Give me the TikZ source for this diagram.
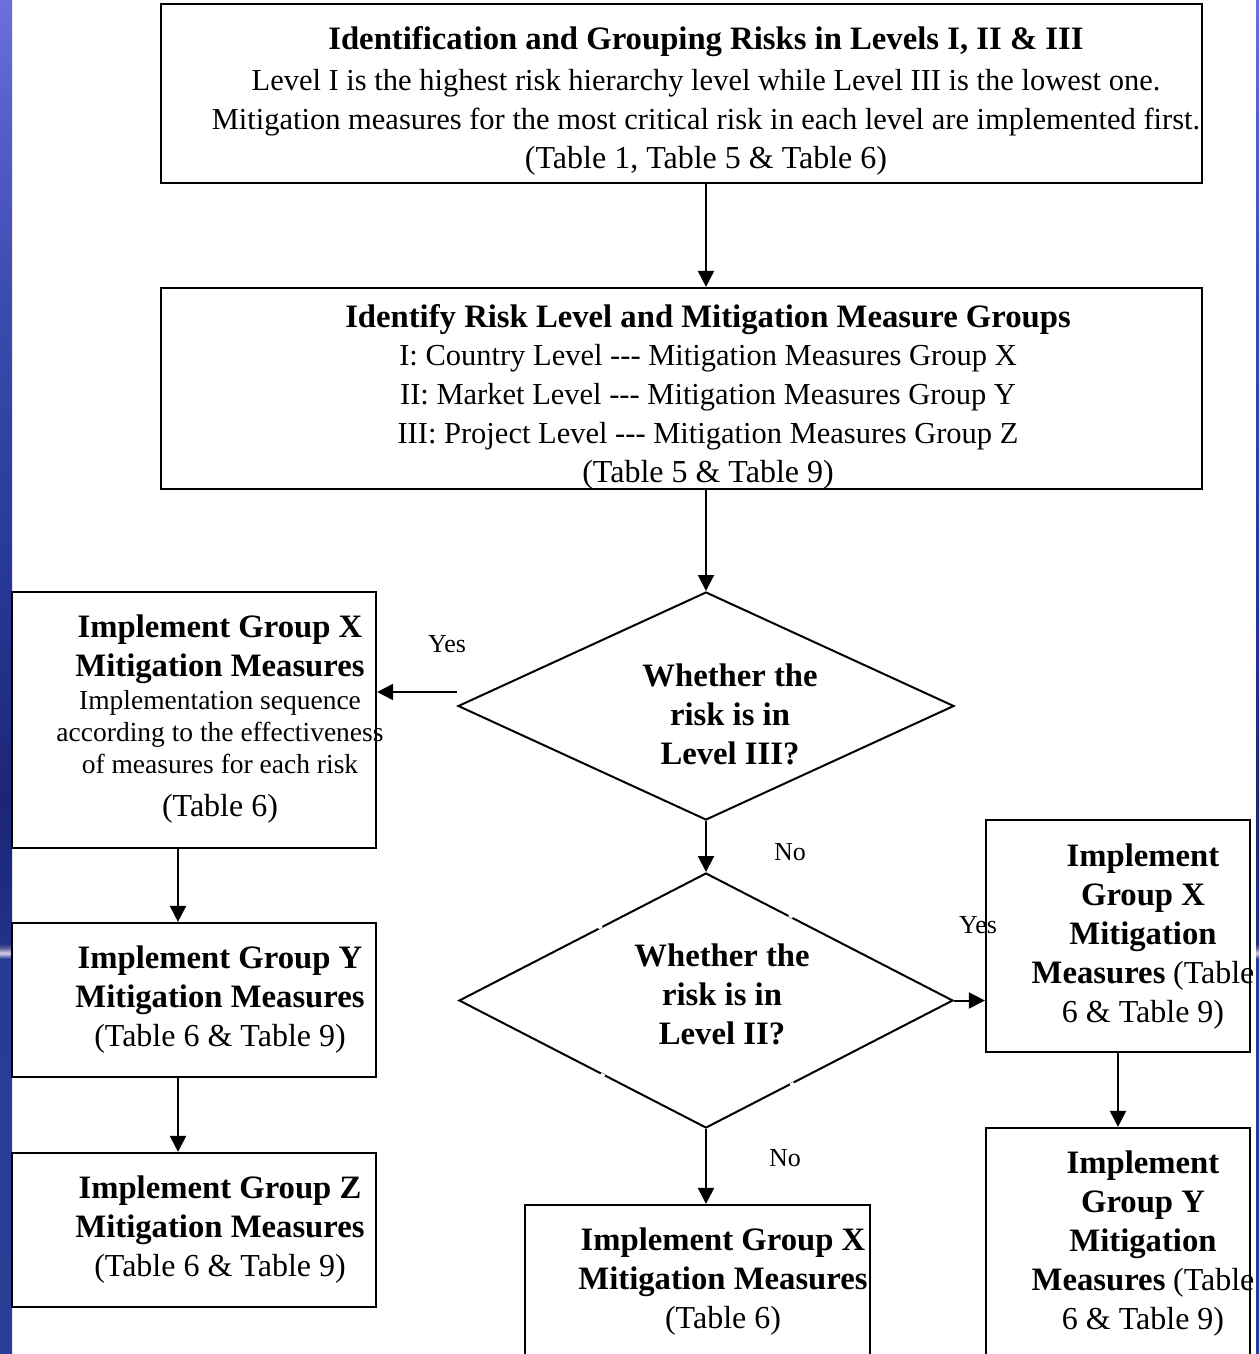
\documentclass[tikz,border=0pt]{standalone}
\usepackage{fontspec}
\setmainfont{Liberation Serif}
\usetikzlibrary{shapes.geometric,arrows.meta,calc}

% colours of the blue side strips
\definecolor{eA}{RGB}{108,112,218}
\definecolor{eB}{RGB}{85,95,200}
\definecolor{eC}{RGB}{60,75,175}
\definecolor{eD}{RGB}{42,58,155}
\definecolor{eE}{RGB}{28,38,118}
\definecolor{eF}{RGB}{30,45,130}
\definecolor{eG}{RGB}{35,50,135}
\definecolor{eH}{RGB}{90,90,150}
\definecolor{eI}{RGB}{215,210,230}
\definecolor{eJ}{RGB}{40,60,150}
\definecolor{eK}{RGB}{42,62,150}

\pgfdeclareverticalshading{edgeblue}{100bp}{%
  color(0bp)=(eK); color(25bp)=(eK); color(39.6bp)=(eJ); color(39.8bp)=(eI);
  color(40bp)=(eH); color(40.15bp)=(eG); color(41.8bp)=(eF); color(45.5bp)=(eE);
  color(54.7bp)=(eD); color(63.9bp)=(eC); color(70.6bp)=(eB); color(75bp)=(eA);
  color(100bp)=(eA)}

\newcommand{\bigbf}{\fontsize{32.7}{39}\selectfont\bfseries}
\newcommand{\tabtxt}{\fontsize{32}{39}\selectfont}
\newcommand{\smalltxt}{\fontsize{27.5}{33}\selectfont}

\tikzset{
  box/.style={draw, line width=2.2pt, rectangle, inner sep=0pt},
  dia/.style={draw, line width=2pt, diamond, inner sep=0pt},
  txt/.style={align=center, inner sep=0pt, font=\fontsize{30.5}{39}\selectfont},
  arr/.style={line width=2pt, -{Triangle[length=16pt,width=16pt]}},
  lbl/.style={inner sep=0pt, font=\fontsize{26}{30}\selectfont},
  gap/.style={white, line width=3.5pt}
}

\begin{document}
\begin{tikzpicture}[x=1pt,y=-1pt]
\useasboundingbox (0,0) rectangle (1259,1354);
\clip (0,0) rectangle (1259,1354);

% side strips
\shade[shading=edgeblue] (0,0) rectangle (12,1354);
\shade[shading=edgeblue] (1256,0) rectangle (1259,1354);

% boxes
\node[box, minimum width=1041pt, minimum height=179pt] (b1) at (681.5,93.5) {};
\node[box, minimum width=1041pt, minimum height=201pt] (b2) at (681.5,388.5) {};
\node[box, minimum width=364pt, minimum height=256pt] (xl) at (194,720) {};
\node[box, minimum width=364pt, minimum height=154pt] (yl) at (194,1000) {};
\node[box, minimum width=364pt, minimum height=154pt] (zl) at (194,1230) {};
\node[box, minimum width=264pt, minimum height=232pt] (xr) at (1118,936) {};
\node[box, minimum width=264pt, minimum height=260pt] (yr) at (1118,1258) {};
\node[box, minimum width=345pt, minimum height=180pt] (xb) at (697.5,1295) {};

% decisions
\node[dia, minimum width=496pt, minimum height=228pt] (d1) at (706,706) {};
\node[dia, minimum width=494pt, minimum height=255pt] (d2) at (706,1000.5) {};

% small breaks in the outline of the second decision
\draw[gap] ($(d2.west)!0.565!(d2.north)$) -- ($(d2.west)!0.58!(d2.north)$);
\draw[gap] ($(d2.north)!0.335!(d2.east)$) -- ($(d2.north)!0.35!(d2.east)$);
\draw[gap] ($(d2.west)!0.575!(d2.south)$) -- ($(d2.west)!0.59!(d2.south)$);
\draw[gap] ($(d2.south)!0.34!(d2.east)$) -- ($(d2.south)!0.355!(d2.east)$);

% texts
\node[txt] (t1) at (706,101) {{\bigbf Identification and Grouping Risks in Levels I, II \& III}\\[2pt]
  Level I is the highest risk hierarchy level while Level III is the lowest one.\\
  Mitigation measures for the most critical risk in each level are implemented first.\\
  {\tabtxt (Table 1, Table 5 \& Table 6)}};
\node[txt] (t2) at (708,397) {{\bigbf Identify Risk Level and Mitigation Measure Groups}\\[-1pt]
  I: Country Level -{}-{}- Mitigation Measures Group X\\
  II: Market Level -{}-{}- Mitigation Measures Group Y\\
  III: Project Level -{}-{}- Mitigation Measures Group Z\\
  {\tabtxt (Table 5 \& Table 9)}};
\node[txt] (txl) at (220,719) {{\bigbf Implement Group X}\\
  {\bigbf Mitigation Measures}\\[-6pt]
  {\smalltxt Implementation sequence}\\[-7pt]
  {\smalltxt according to the effectiveness}\\[-7pt]
  {\smalltxt of measures for each risk}\\[4pt]
  {\tabtxt (Table 6)}};
\node[txt] (tyl) at (220,999.5) {{\bigbf Implement Group Y}\\
  {\bigbf Mitigation Measures}\\
  {\tabtxt (Table 6 \& Table 9)}};
\node[txt] (tzl) at (220,1230) {{\bigbf Implement Group Z}\\
  {\bigbf Mitigation Measures}\\
  {\tabtxt (Table 6 \& Table 9)}};
\node[txt] (td1) at (730,714) {{\bigbf Whether the}\\{\bigbf risk is in}\\{\bigbf Level III?}};
\node[txt] (td2) at (722,994.5) {{\bigbf Whether the}\\{\bigbf risk is in}\\{\bigbf Level II?}};
\node[txt] (txr) at (1143,937) {{\bigbf Implement}\\{\bigbf Group X}\\{\bigbf Mitigation}\\
  {\bigbf Measures} {\tabtxt (Table}\\{\tabtxt 6 \& Table 9)}};
\node[txt] (tyr) at (1143,1244) {{\bigbf Implement}\\{\bigbf Group Y}\\{\bigbf Mitigation}\\
  {\bigbf Measures} {\tabtxt (Table}\\{\tabtxt 6 \& Table 9)}};
\node[txt] (txb) at (723,1282) {{\bigbf Implement Group X}\\
  {\bigbf Mitigation Measures}\\
  {\tabtxt (Table 6)}};

% branch labels
\node[lbl] (yes1) at (447,644) {Yes};
\node[lbl] (no1) at (790,852) {No};
\node[lbl] (yes2) at (978,925) {Yes};
\node[lbl] (no2) at (785,1158) {No};

% connectors
\draw[arr] (d1 |- b1.south) -- (d1 |- b2.north);
\draw[arr] (d1 |- b2.south) -- (d1.north);
\coordinate (y1start) at ([yshift=14pt]d1.west);
\draw[arr] (y1start) -- (y1start -| xl.east);
\draw[arr] ([xshift=-16pt]xl.south) -- ([xshift=-16pt]yl.north);
\draw[arr] ([xshift=-16pt]yl.south) -- ([xshift=-16pt]zl.north);
\draw[arr] (d1.south) -- (d2.north);
\draw[arr] (d2.east) -- (d2.east -| xr.west);
\draw[arr] (xr.south) -- (yr.north);
\draw[arr] (d2.south) -- (d2.south |- xb.north);
\end{tikzpicture}
\end{document}
